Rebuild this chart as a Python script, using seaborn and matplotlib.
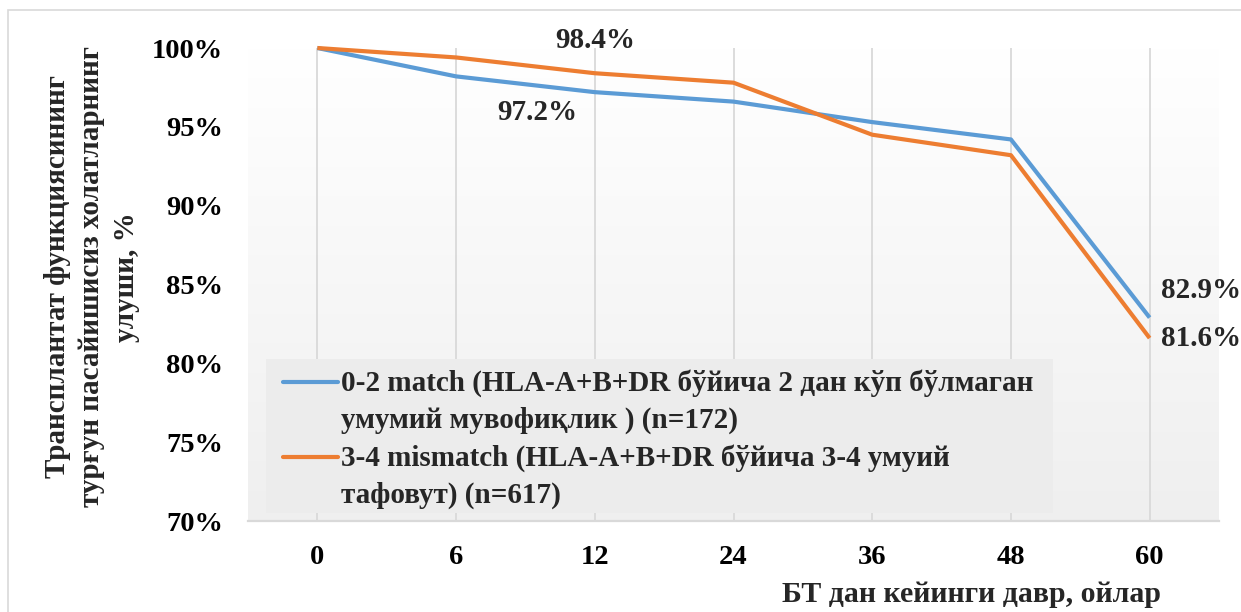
import numpy as np
import pandas as pd
import matplotlib
matplotlib.use("Agg")
import matplotlib.pyplot as plt
from matplotlib.patches import Rectangle
from matplotlib.lines import Line2D
from matplotlib.ticker import FuncFormatter
import seaborn as sns

# Follow-up period after transplantation, months
months = ["0", "6", "12", "24", "36", "48", "60"]
# Share of cases without persistent graft function decline, %
match_02 = [100.0, 98.2, 97.2, 96.6, 95.3, 94.2, 82.9]
mismatch_34 = [100.0, 99.4, 98.4, 97.8, 94.5, 93.2, 81.6]

series_names = [
    "0-2 match (HLA-A+B+DR бўйича 2 дан кўп бўлмаган\nумумий мувофиқлик ) (n=172)",
    "3-4 mismatch (HLA-A+B+DR бўйича 3-4 умуий\nтафовут) (n=617)",
]
colors = ["#5b9bd5", "#ed7d31"]

y_title = "Трансплантат функциясининг\nтурғун пасайишисиз холатларнинг\nулуши, %"
x_title = "БТ дан кейинги давр, ойлар"

df = pd.DataFrame({
    "month": months * 2,
    "value": match_02 + mismatch_34,
    "group": [series_names[0]] * len(months) + [series_names[1]] * len(months),
})

sns.set_theme(style="white")
plt.rcParams["font.family"] = ["Liberation Serif", "DejaVu Serif"]
plt.rcParams["font.weight"] = "bold"

W, H = 1241, 612
fig = plt.figure(figsize=(W / 100, H / 100), dpi=100)
fig.patch.set_facecolor("white")

# outer chart frame
fig.patches.append(Rectangle((8 / W, -0.1), 1.2, 1 - 10 / H + 0.1,
                             transform=fig.transFigure, fill=False,
                             edgecolor="#d9d9d9", linewidth=1.2, zorder=0))

ax = fig.add_axes([248 / W, (H - 521) / H, (1219 - 248) / W, (521 - 48) / H])
ax.set_facecolor("none")

# soft vertical gradient in the plot area (white at top, light grey at bottom)
grad = np.linspace(0.0, 1.0, 256).reshape(-1, 1)
ax.imshow(grad, extent=[0, 1, 0, 1], transform=ax.transAxes, aspect="auto",
          cmap=matplotlib.colors.LinearSegmentedColormap.from_list(
              "bg", ["#ffffff", "#efefef"]), vmin=0, vmax=1, zorder=-5)

sns.lineplot(data=df, x="month", y="value", hue="group", palette=colors,
             linewidth=3.0, sort=False, ax=ax, legend=False, zorder=3)
for ln in ax.lines:
    ln.set_solid_joinstyle("round")
    ln.set_solid_capstyle("butt")
    ln.set_clip_on(False)

ax.set_xlim(-0.5, len(months) - 0.5)
ax.set_ylim(70, 100)
ax.set_yticks([70, 75, 80, 85, 90, 95, 100])
ax.yaxis.set_major_formatter(FuncFormatter(lambda v, p: f"{v:.0f}%"))
ax.set_xlabel("")
ax.set_ylabel("")

ax.grid(False)
for i in range(len(months)):
    ax.axvline(i, color="#d9d9d9", linewidth=1.3, zorder=1)

for s in ["top", "right", "left"]:
    ax.spines[s].set_visible(False)
ax.spines["bottom"].set_color("#d9d9d9")
ax.spines["bottom"].set_linewidth(1.6)

ax.tick_params(axis="both", length=0, labelsize=20.5, colors="black")
ax.tick_params(axis="y", pad=18)
ax.tick_params(axis="x", pad=17)
for t in ax.get_xticklabels() + ax.get_yticklabels():
    t.set_fontweight("bold")

# value labels
lab_kw = dict(textcoords="offset pixels", fontsize=21, fontweight="bold",
              va="center", annotation_clip=False, zorder=5)
i12 = months.index("12")
i60 = months.index("60")
ax.annotate(f"{mismatch_34[i12]:.1f}%", (i12, mismatch_34[i12]),
            xytext=(0, 33), ha="center", **lab_kw)
ax.annotate(f"{match_02[i12]:.1f}%", (i12, match_02[i12]),
            xytext=(-57, -20), ha="center", **lab_kw)
ax.annotate(f"{match_02[i60]:.1f}%", (i60, match_02[i60]),
            xytext=(11, 27), ha="left", **lab_kw)
ax.annotate(f"{mismatch_34[i60]:.1f}%", (i60, mismatch_34[i60]),
            xytext=(11, 0), ha="left", **lab_kw)

# legend panel
def ax_x(px):
    return (px - 248) / 971


def ax_y(py):
    return (521 - py) / 473


ax.add_patch(Rectangle((ax_x(266), ax_y(513)), ax_x(1053) - ax_x(266),
                       ax_y(359) - ax_y(513), transform=ax.transAxes,
                       facecolor="#ececec", edgecolor="none", zorder=4))
for k, (name, col) in enumerate(zip(series_names, colors)):
    y_first = 383 + 75 * k
    ax.add_line(Line2D([ax_x(283), ax_x(338)], [ax_y(y_first - 1)] * 2,
                       transform=ax.transAxes, color=col, linewidth=3.0,
                       solid_capstyle="round", zorder=5))
    for j, part in enumerate(name.split("\n")):
        ax.text(ax_x(341), ax_y(y_first + 37 * j), part,
                transform=ax.transAxes, fontsize=21, fontweight="bold",
                ha="left", va="center", zorder=5)

fig.text(92 / W, 1 - 277 / H, y_title, rotation=90, ha="center", va="center",
         multialignment="center", fontsize=21, fontweight="bold", linespacing=1.38)
fig.text(971 / W, 1 - 595 / H, x_title, ha="center", va="center",
         fontsize=21.5, fontweight="bold")

fig.savefig("out.png", dpi=100)
